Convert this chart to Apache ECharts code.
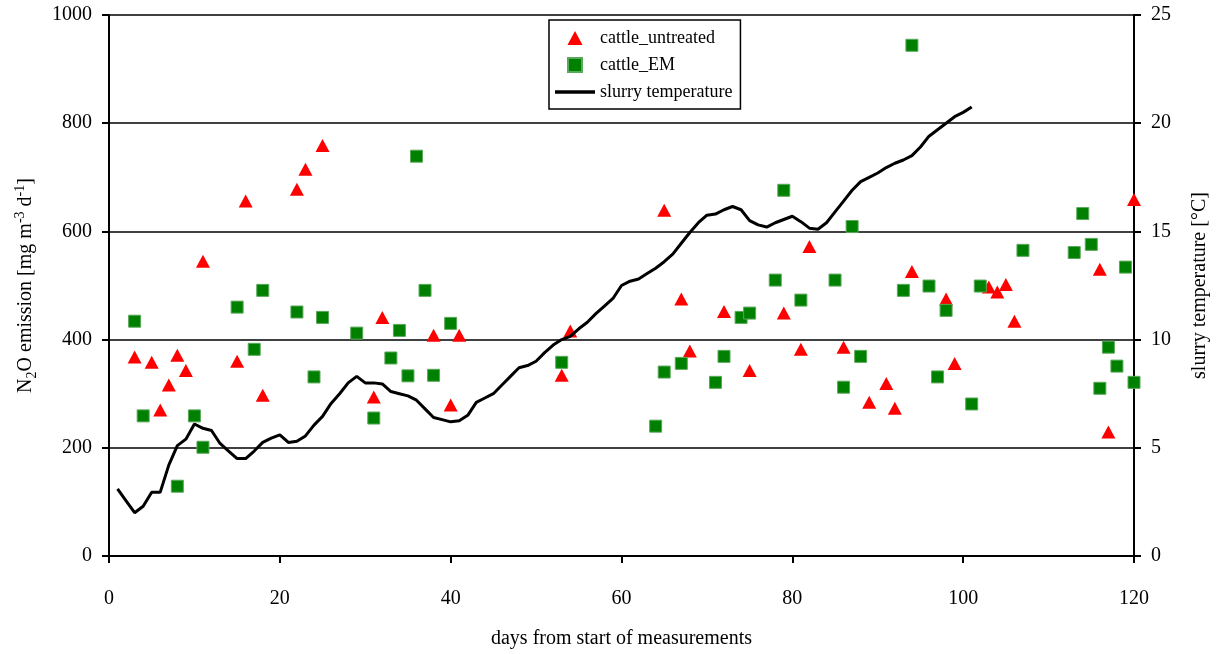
<!DOCTYPE html>
<html>
<head>
<meta charset="utf-8">
<script src="https://cdn.jsdelivr.net/npm/echarts@6/dist/echarts.min.js"></script>
<style>
  html, body { margin: 0; padding: 0; background: #fff; }
  #chartExample { width: 1219px; height: 654px; }
</style>
</head>
<body>
<div id="chartExample"></div>
<script>
// 数据
var untreatedDays = [3, 5, 6, 7, 8, 9, 11, 15, 16, 18, 22, 23, 25, 31, 32, 38, 40, 41, 53, 54,
    65, 67, 68, 72, 75, 79, 81, 82, 86, 89, 91, 92, 94, 98, 99, 103, 104, 105, 106, 116, 117, 120];
var untreatedValues = [368, 358, 270, 316, 371, 343, 545, 360, 656, 297, 678, 715, 759, 294, 441, 408, 279, 408, 334, 416,
    639, 475, 379, 452, 343, 449, 382, 572, 386, 284, 319, 273, 526, 475, 356, 497, 488, 502, 434, 530, 229, 659];

var emDays = [3, 4, 8, 10, 11, 15, 17, 18, 22, 24, 25, 29, 31, 33, 34, 35, 36, 37, 38, 40,
    53, 64, 65, 67, 71, 72, 74, 75, 78, 79, 81, 85, 86, 87, 88, 93, 94, 96, 97, 98,
    101, 102, 107, 113, 114, 115, 116, 117, 118, 119, 120];
var emValues = [434, 259, 129, 259, 201, 460, 382, 491, 451, 331, 441, 412, 255, 366, 417, 333, 739, 491, 334, 430,
    358, 240, 340, 356, 321, 369, 441, 449, 510, 676, 473, 510, 312, 609, 369, 491, 944, 499, 331, 454,
    281, 499, 565, 561, 633, 576, 310, 386, 351, 534, 321];

var tempDays = [1, 2, 3, 4, 5, 6, 7, 8, 9, 10, 11, 12, 13, 14, 15, 16, 17, 18, 19, 20,
    21, 22, 23, 24, 25, 26, 27, 28, 29, 30, 31, 32, 33, 34, 35, 36, 37, 38, 39, 40,
    41, 42, 43, 44, 45, 46, 47, 48, 49, 50, 51, 52, 53, 54, 55, 56, 57, 58, 59, 60,
    61, 62, 63, 64, 65, 66, 67, 68, 69, 70, 71, 72, 73, 74, 75, 76, 77, 78, 79, 80,
    81, 82, 83, 84, 85, 86, 87, 88, 89, 90, 91, 92, 93, 94, 95, 96, 97, 98, 99, 100, 101];
var tempValues = [3.1, 2.55, 2.0, 2.3, 2.95, 2.95, 4.2, 5.1, 5.4, 6.1, 5.9, 5.8, 5.2, 4.85, 4.5, 4.5, 4.85, 5.25, 5.45, 5.6,
    5.25, 5.3, 5.55, 6.05, 6.45, 7.05, 7.5, 8.0, 8.3, 8.0, 8.0, 7.95, 7.6, 7.5, 7.4, 7.2, 6.8, 6.4, 6.3, 6.2,
    6.25, 6.5, 7.1, 7.3, 7.5, 7.9, 8.3, 8.7, 8.8, 9.0, 9.4, 9.75, 10.0, 10.15, 10.5, 10.8, 11.2, 11.55, 11.9, 12.5,
    12.7, 12.8, 13.05, 13.3, 13.6, 13.95, 14.45, 14.95, 15.4, 15.75, 15.8, 16.0, 16.15, 16.0, 15.5, 15.3, 15.2, 15.4, 15.55, 15.7,
    15.45, 15.15, 15.1, 15.4, 15.9, 16.4, 16.9, 17.3, 17.5, 17.7, 17.95, 18.15, 18.3, 18.5, 18.9, 19.4, 19.7, 20.0, 20.3, 20.5, 20.75];

function pairs(xs, ys) {
    var out = [];
    for (var i = 0; i < xs.length; i++) out.push([xs[i], ys[i]]);
    return out;
}

var serif = '"Liberation Serif", "Times New Roman", serif';

var myChart = echarts.init(document.getElementById("chartExample"));
var option = {
    animation: false,
    backgroundColor: '#fff',
    textStyle: { fontFamily: serif, color: '#000' },
    grid: { left: 109, right: 85, top: 15, bottom: 97 },
    legend: {
        orient: 'vertical',
        left: 549,
        top: 20,
        padding: [9, 8, 8, 6],
        itemGap: 9,
        itemWidth: 40,
        itemHeight: 14,
        itemTextGap: 4,
        symbolKeepAspect: true,
        borderColor: '#000',
        borderWidth: 1.5,
        backgroundColor: '#fff',
        textStyle: { fontFamily: serif, fontSize: 18, color: '#000' },
        data: [
            { name: 'cattle_untreated', icon: 'path://M7,0L14,13L0,13Z' },
            { name: 'cattle_EM', icon: 'path://M0,0H12V12H0Z' },
            { name: 'slurry temperature', icon: 'path://M0,0H40V3.5H0Z' }
        ]
    },
    xAxis: {
        type: 'value',
        min: 0,
        max: 120,
        interval: 20,
        name: 'days from start of measurements',
        nameLocation: 'middle',
        nameGap: 73,
        nameTextStyle: { fontFamily: serif, fontSize: 20, color: '#000' },
        axisLine: { lineStyle: { color: '#000', width: 2 } },
        axisTick: { show: true, length: 7, lineStyle: { color: '#000', width: 2 } },
        axisLabel: { margin: 33, fontFamily: serif, fontSize: 20, color: '#000' },
        splitLine: { show: false }
    },
    yAxis: [{
        type: 'value',
        min: 0,
        max: 1000,
        interval: 200,
        position: 'left',
        name: 'N{sub|2}O emission [mg m{sup|-3} d{sup|-1}]',
        nameLocation: 'middle',
        nameRotate: 90,
        nameGap: 70,
        nameTextStyle: {
            fontFamily: serif, fontSize: 20, color: '#000', lineHeight: 26,
            rich: {
                sub: { fontFamily: serif, fontSize: 14, verticalAlign: 'bottom', lineHeight: 26, color: '#000' },
                sup: { fontFamily: serif, fontSize: 14, verticalAlign: 'top', lineHeight: 26, color: '#000' }
            }
        },
        axisLine: { show: true, lineStyle: { color: '#000', width: 2 } },
        axisTick: { show: true, length: 7, lineStyle: { color: '#000', width: 2 } },
        axisLabel: {
            margin: 17, fontFamily: serif, fontSize: 20, color: '#000',
            formatter: function (v) { return String(v); }
        },
        splitLine: { show: true, lineStyle: { color: '#000', width: 1.5 } }
    }, {
        type: 'value',
        min: 0,
        max: 25,
        interval: 5,
        position: 'right',
        name: 'slurry temperature [°C]',
        nameLocation: 'middle',
        nameRotate: 90,
        nameGap: 56,
        nameTextStyle: { fontFamily: serif, fontSize: 20, color: '#000' },
        axisLine: { show: true, lineStyle: { color: '#000', width: 2 } },
        axisTick: { show: true, length: 7, lineStyle: { color: '#000', width: 2 } },
        axisLabel: { margin: 17, fontFamily: serif, fontSize: 20, color: '#000' },
        splitLine: { show: false }
    }],
    series: [{
        name: 'cattle_untreated',
        type: 'scatter',
        symbol: 'triangle',
        symbolSize: [14, 13],
        itemStyle: { color: '#ff0000', opacity: 1 },
        data: pairs(untreatedDays, untreatedValues)
    }, {
        name: 'cattle_EM',
        type: 'scatter',
        symbol: 'rect',
        symbolSize: 12,
        itemStyle: { color: '#008000', borderColor: '#5aa85a', borderWidth: 1, opacity: 1 },
        data: pairs(emDays, emValues)
    }, {
        name: 'slurry temperature',
        type: 'line',
        yAxisIndex: 1,
        symbol: 'none',
        z: 5,
        lineStyle: { color: '#000', width: 3 },
        itemStyle: { color: '#000' },
        data: pairs(tempDays, tempValues)
    }]
};
myChart.setOption(option);
</script>
</body>
</html>
